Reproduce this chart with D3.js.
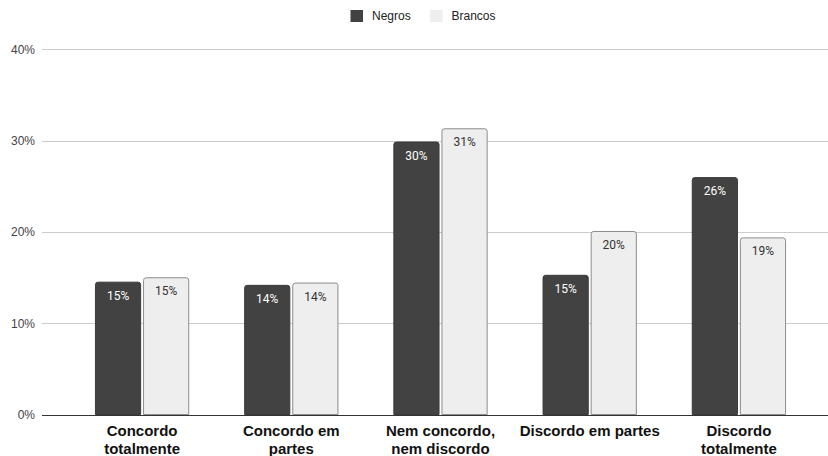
<!DOCTYPE html>
<html>
<head>
<meta charset="utf-8">
<script src="https://cdn.jsdelivr.net/npm/d3@7"></script>
<style>
  html, body { margin: 0; padding: 0; background: #fff; }
  svg { display: block; }
</style>
</head>
<body>
<svg id="chart" width="828" height="456"></svg>
<script>
// Response categories (x axis), split into two lines each
const categories = [
  ["Concordo", "totalmente"],
  ["Concordo em", "partes"],
  ["Nem concordo,", "nem discordo"],
  ["Discordo em partes"],
  ["Discordo", "totalmente"]
];
const seriesNames = ["Negros", "Brancos"];
// Share of respondents (%)
const negros  = [14.55, 14.2, 29.9, 15.3, 26.0];
const brancos = [15.03, 14.45, 31.35, 20.1, 19.4];
const yTicks = [0, 10, 20, 30, 40];

const colors = { Negros: "#424242", Brancos: "#eeeeee" };
const strokes = { Negros: "#3a3a3a", Brancos: "#8c8c8c" };
const labelColors = { Negros: "#ffffff", Brancos: "#333333" };

const svg = d3.select("#chart");
const plotLeft = 42, plotRight = 828, plotTop = 49.3, plotBottom = 414.5;

const keys = categories.map((c, i) => i);
const x = d3.scaleBand().domain(keys).range([67.5, 813.5])
  .paddingInner(0.368).paddingOuter(0.184);
const xs = d3.scaleBand().domain(seriesNames).range([0, x.bandwidth()]).paddingInner(0.04);
const y = d3.scaleLinear().domain([0, 40]).range([plotBottom, plotTop]);

// Gridlines
svg.append("g").selectAll("line").data(yTicks.filter(t => t > 0)).join("line")
  .attr("x1", plotLeft).attr("x2", plotRight)
  .attr("y1", d => Math.round(y(d)) + 0.5).attr("y2", d => Math.round(y(d)) + 0.5)
  .attr("stroke", "#cccccc").attr("stroke-width", 1);

// Y axis labels
const yAxis = d3.axisLeft(y).tickValues(yTicks).tickFormat(d => d + "%").tickSize(0).tickPadding(0);
const ya = svg.append("g").attr("transform", `translate(35,0)`).call(yAxis);
ya.select(".domain").remove();
ya.selectAll("text").attr("font-family", "Liberation Sans, Arial, sans-serif")
  .attr("font-size", 12).attr("fill", "#444");

// Bars
const data = [];
keys.forEach(i => {
  data.push({ i, s: "Negros", v: negros[i] });
  data.push({ i, s: "Brancos", v: brancos[i] });
});

function topRounded(x0, y0, w, h, r) {
  return `M${x0},${y0 + h}V${y0 + r}Q${x0},${y0} ${x0 + r},${y0}H${x0 + w - r}Q${x0 + w},${y0} ${x0 + w},${y0 + r}V${y0 + h}Z`;
}

const g = svg.append("g");
g.selectAll("path.bar").data(data).join("path")
  .attr("class", "bar")
  .attr("d", d => {
    const bx = x(d.i) + xs(d.s) + 0.5;
    const by = y(d.v) + 0.5;
    return topRounded(bx, by, xs.bandwidth() - 1, plotBottom - by, 2.5);
  })
  .attr("fill", d => colors[d.s])
  .attr("stroke", d => strokes[d.s]).attr("stroke-width", 1);

g.selectAll("text.val").data(data).join("text")
  .attr("class", "val")
  .attr("x", d => x(d.i) + xs(d.s) + xs.bandwidth() / 2)
  .attr("y", d => y(d.v) + 18)
  .attr("text-anchor", "middle")
  .attr("font-family", "Roboto, sans-serif").attr("font-size", 12)
  .attr("fill", d => labelColors[d.s])
  .text(d => Math.round(d.v) + "%");

// Baseline
svg.append("line").attr("x1", plotLeft).attr("x2", plotRight)
  .attr("y1", Math.round(plotBottom) + 0.5).attr("y2", Math.round(plotBottom) + 0.5)
  .attr("stroke", "#333").attr("stroke-width", 1);

// X category labels
const xl = svg.append("g").selectAll("text").data(keys).join("text")
  .attr("text-anchor", "middle")
  .attr("font-family", "Liberation Sans, Arial, sans-serif")
  .attr("font-weight", "bold").attr("font-size", 15).attr("fill", "#111");
xl.each(function(i) {
  const t = d3.select(this);
  categories[i].forEach((line, k) => {
    t.append("tspan").attr("x", x(i) + x.bandwidth() / 2).attr("y", 435.5 + k * 18).text(line);
  });
});

// Legend
const legend = svg.append("g");
const lx = [350.5, 430];
seriesNames.forEach((s, k) => {
  legend.append("rect").attr("x", lx[k]).attr("y", 10).attr("width", 12.5).attr("height", 12)
    .attr("fill", colors[s]);
  legend.append("text").attr("x", lx[k] + 21.5).attr("y", 20.3)
    .attr("font-family", "Liberation Sans, Arial, sans-serif").attr("font-size", 12)
    .attr("fill", "#222").text(s);
});
</script>
</body>
</html>
